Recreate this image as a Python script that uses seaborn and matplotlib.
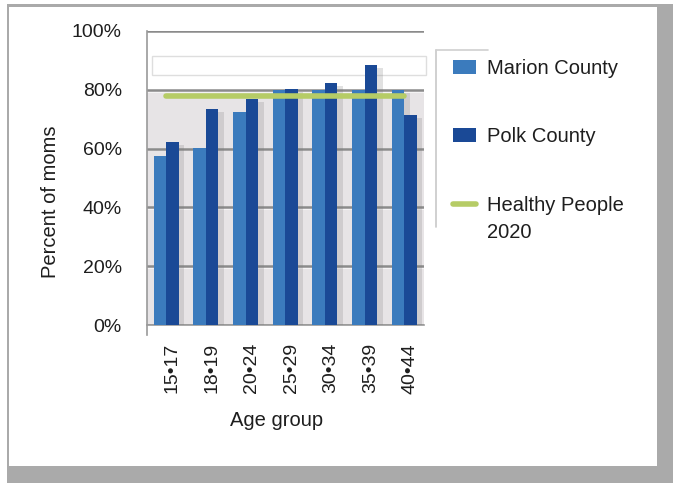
import numpy as np
import pandas as pd
import matplotlib
matplotlib.use("Agg")
import matplotlib.pyplot as plt
import matplotlib.transforms as mtransforms
import matplotlib.patheffects as pe
from matplotlib.patches import Rectangle
from matplotlib.lines import Line2D
import seaborn as sns

# ---------------------------------
# Data
# ---------------------------------
age_groups = ["15•17", "18•19", "20•24", "25•29", "30•34", "35•39", "40•44"]
marion = [57.5, 60.1, 72.4, 79.9, 79.9, 79.9, 79.9]
polk = [62.2, 73.4, 76.8, 80.2, 82.2, 88.4, 71.4]
hp2020 = [77.9] * len(age_groups)
y_ticks = [0, 20, 40, 60, 80, 100]

marion_color = "#3b7bbd"
polk_color = "#1a4996"
hp_color = "#b6cc66"
axis_gray = "#9a9a9a"
grid_gray = "#8b8b8b"

df = pd.DataFrame({
    "age": age_groups * 2,
    "pct": marion + polk,
    "county": ["Marion County"] * len(age_groups) + ["Polk County"] * len(age_groups),
})

# ---------------------------------
# Figure + frame
# ---------------------------------
sns.set_style("white")
plt.rcParams["font.family"] = ["Liberation Sans", "DejaVu Sans"]
plt.rcParams["text.color"] = "#1e1e1e"
plt.rcParams["xtick.color"] = "#1e1e1e"
plt.rcParams["ytick.color"] = "#1e1e1e"

W, H = 673, 483
fig = plt.figure(figsize=(W / 100, H / 100), dpi=100)
fig.patch.set_facecolor("white")
fig.patches.append(Rectangle((7 / W, 0), 1 - 7 / W, 1 - 4 / H, transform=fig.transFigure,
                             facecolor="#aaaaaa", edgecolor="none", zorder=-10))
fig.patches.append(Rectangle((9 / W, 1 - 466 / H), 648 / W, 459 / H, transform=fig.transFigure,
                             facecolor="white", edgecolor="none", zorder=-9))

ax = fig.add_axes([146.5 / W, 1 - 325 / H, (424 - 146.5) / W, (325 - 31) / H])
ax.set_facecolor("white")

# back wall shading
ax.axhspan(0, 80, color="#e7e4e6", zorder=0, lw=0)
for t in y_ticks[1:-1]:
    ax.axhline(t - 0.6, color="#f7f7f7", lw=1.2, zorder=0.5)
ax.add_patch(Rectangle((-0.35, 85), 6.9, 6.6, facecolor="white", edgecolor="#dedede",
                       lw=1, zorder=0.6, clip_on=False))

# ---------------------------------
# Bars + target line
# ---------------------------------
sns.barplot(data=df, x="age", y="pct", hue="county", palette=[marion_color, polk_color],
            width=0.63, gap=0, saturation=1, linewidth=0, ax=ax, zorder=3, legend=True)
for cont in ax.containers:
    for bar in cont:
        bar.set_path_effects([pe.SimplePatchShadow(offset=(4, -2), shadow_rgbFace="#7a7a7a",
                                                   alpha=0.22), pe.Normal()])
sns.lineplot(x=np.arange(len(age_groups)), y=hp2020, color=hp_color, linewidth=4,
             ax=ax, zorder=4, label="Healthy People")

# ---------------------------------
# Axes styling
# ---------------------------------
ax.set_xlim(-0.5, len(age_groups) - 0.5)
ax.set_ylim(0, 100)
ax.set_yticks(y_ticks)
ax.set_yticklabels([f"{t}%" for t in y_ticks])
ax.yaxis.grid(True, color=grid_gray, linewidth=1.8)
ax.set_axisbelow(True)
ax.tick_params(axis="y", length=7.2, width=1, color=axis_gray, pad=10.5, labelsize=14)

ax.set_xticks(range(len(age_groups)))
ax.set_xticklabels(age_groups, rotation=90, fontsize=14)
ax.set_xticks(np.arange(-0.5, len(age_groups), 1), minor=True)
ax.tick_params(axis="x", which="major", length=0, pad=13)
ax.tick_params(axis="x", which="minor", length=6, width=1, color=axis_gray)
shift = mtransforms.ScaledTranslation(6 / 100, 0, fig.dpi_scale_trans)
for lab in ax.get_xticklabels():
    lab.set_transform(lab.get_transform() + shift)

ax.set_xlabel("")
ax.set_ylabel("")
for s in ["top", "right"]:
    ax.spines[s].set_visible(False)
ax.spines["left"].set_color(axis_gray)
ax.spines["left"].set_linewidth(1.2)
ax.spines["left"].set_bounds(-3.5, 100)
ax.spines["bottom"].set_color(axis_gray)
ax.spines["bottom"].set_linewidth(1.2)

fig.text(51 / W, 1 - 202 / H, "Percent of moms", rotation=90, ha="center", va="center",
         fontsize=14.5)
fig.text(277 / W, 1 - 421 / H, "Age group", ha="center", va="center", fontsize=14.5)

# ---------------------------------
# Legend
# ---------------------------------
handles, labels = ax.get_legend_handles_labels()
leg = ax.legend(handles, labels, loc="upper left", bbox_to_anchor=(453 / W, 1 - 59 / H),
                bbox_transform=fig.transFigure, frameon=False, fontsize=14.5,
                handlelength=1.15, handleheight=0.7, handletextpad=0.55, labelspacing=2.45,
                borderpad=0, borderaxespad=0)
for h in leg.legend_handles:
    if isinstance(h, Line2D):
        h.set_linewidth(4)

# second line of the Healthy People label, under the legend text
fig.canvas.draw()
bb = leg.get_texts()[-1].get_window_extent()
fig.text(bb.x0 / W, (bb.y0 - 27) / H, "2020", ha="left", va="bottom", fontsize=14.5)

fig.lines.append(Line2D([435.7 / W, 435.7 / W], [1 - 50 / H, 1 - 227 / H],
                        transform=fig.transFigure, color="#c8c8c8", lw=1.2))
fig.lines.append(Line2D([435.7 / W, 488 / W], [1 - 50 / H, 1 - 50 / H],
                        transform=fig.transFigure, color="#d0d0d0", lw=1.2))

fig.savefig("out.png", dpi=100)
